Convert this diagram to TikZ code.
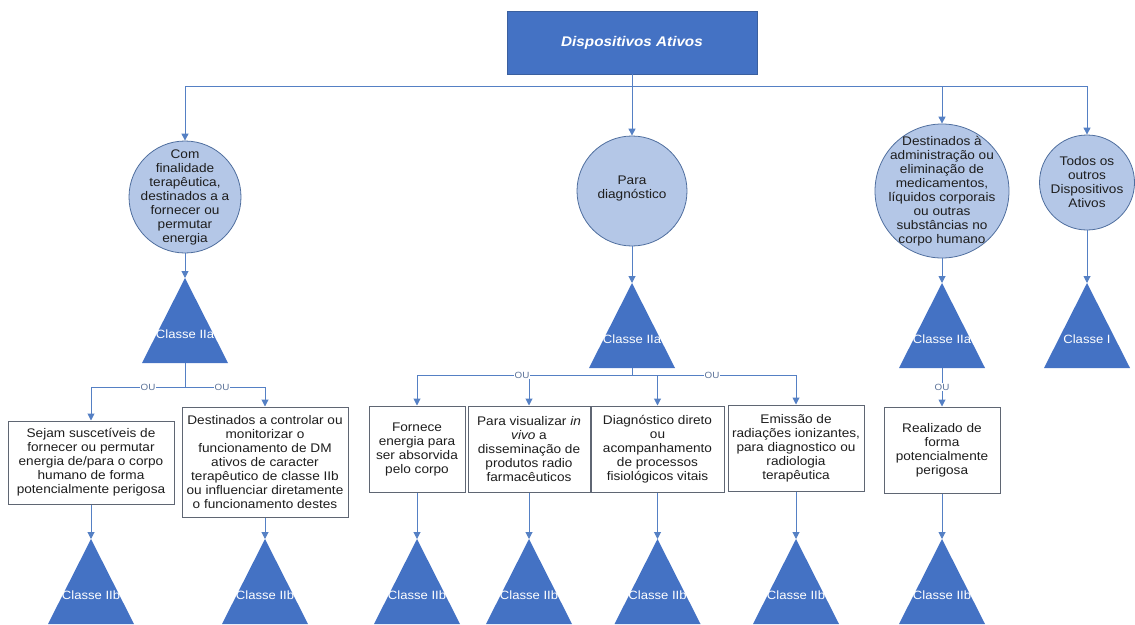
\documentclass[tikz,border=0pt]{standalone}
\usepackage{fontspec}
\setmainfont[FakeStretch=1.09]{Liberation Sans}
\usetikzlibrary{arrows.meta}
\definecolor{dblue}{HTML}{4472C4}
\definecolor{dborder}{HTML}{3A5F9E}
\definecolor{cfill}{HTML}{B4C7E7}
\definecolor{cborder}{HTML}{4F6E9E}
\definecolor{lcol}{HTML}{5580C4}
\definecolor{bborder}{HTML}{5F6673}
\definecolor{txt}{HTML}{1E1E1E}
\definecolor{oucol}{HTML}{5C7399}
\newcommand\mytri[4]{%
  \coordinate (#1) at (#2,#3);
  \coordinate (#1b) at (#2,#3+85);
  \fill[dblue] (#1) -- ++(43,85) -- ++(-86,0) -- cycle;
  \node[trilabel] (#1l) at (#2,#3+56) {#4};
}
\tikzset{
  basefont/.style={font=\fontsize{12.5}{14}\selectfont, text=txt, align=center},
  topbox/.style={draw=dborder, line width=0.8pt, fill=dblue, minimum width=250pt, minimum height=63pt,
    font=\fontsize{14}{16}\selectfont\bfseries\itshape, text=white},
  circ/.style={circle, draw=cborder, line width=0.8pt, fill=cfill, inner sep=0pt},
  ctext/.style={basefont, inner sep=0pt},
  box/.style={basefont, draw=bborder, line width=1pt, fill=white, inner sep=2pt},
  trilabel/.style={font=\fontsize{12}{14}\selectfont, text=white},
  ou/.style={font=\fontsize{9}{10}\selectfont, text=oucol, fill=white, inner sep=1pt},
  conn/.style={draw=lcol, line width=1pt},
  arr/.style={conn, -{Triangle[length=7pt,width=7pt]}},
}
\begin{document}
\begin{tikzpicture}[x=1pt,y=-1pt]
\useasboundingbox (0,0) rectangle (1135,624);

% top
\node[topbox] (top) at (632,42.5) {Dispositivos Ativos};

% circles
\node[circ, minimum size=112pt] (c1) at (185,197) {};
\node[ctext] (c1t) at (c1) {Com\\finalidade\\terapêutica,\\destinados a a\\fornecer ou\\permutar\\energia};
\node[circ, minimum size=110pt] (c2) at (632,191) {};
\node[ctext] (c2t) at (632,188) {Para\\diagnóstico};
\node[circ, minimum size=134pt] (c3) at (942,191) {};
\node[ctext] (c3t) at (c3) {Destinados à\\administração ou\\eliminação de\\medicamentos,\\líquidos corporais\\ou outras\\substâncias no\\corpo humano};
\node[circ, minimum size=95pt] (c4) at (1087,182.5) {};
\node[ctext] (c4t) at (c4) {Todos os\\outros\\Dispositivos\\Ativos};

% bus top
\coordinate (bus) at (632,86);
\draw[conn] (bus -| c1) -- (bus -| c4);
\draw[arr] (top.south) -- (c2.north);
\draw[arr] (bus -| c1) -- (c1.north);
\draw[arr] (bus -| c3) -- (c3.north);
\draw[arr] (bus -| c4) -- (c4.north);

% class triangles row 1
\mytri{t1}{185}{278}{Classe IIa}
\mytri{t2}{632}{283}{Classe IIa}
\mytri{t3}{942}{283}{Classe IIa}
\mytri{t4}{1087}{283}{Classe I}

\draw[arr] (c1.south) -- (t1);
\draw[arr] (c2.south) -- (t2);
\draw[arr] (c3.south) -- (t3);
\draw[arr] (c4.south) -- (t4);

% boxes
\node[box, minimum width=166pt, minimum height=83pt] (b1) at (91,462.5) {Sejam suscetíveis de\\fornecer ou permutar\\energia de/para o corpo\\humano de forma\\potencialmente perigosa};
\node[box, minimum width=166pt, minimum height=110pt] (b2) at (265,462) {Destinados a controlar ou\\monitorizar o\\funcionamento de DM\\ativos de caracter\\terapêutico de classe IIb\\ou influenciar diretamente\\o funcionamento destes};
\node[box, minimum width=96pt, minimum height=86pt] (bA) at (417,449) {Fornece\\energia para\\ser absorvida\\pelo corpo};
\node[box, minimum width=122pt, minimum height=86pt] (bB) at (529,449) {Para visualizar \textit{in}\\\textit{vivo} a\\disseminação de\\produtos radio\\farmacêuticos};
\node[box, minimum width=133pt, minimum height=86pt] (bC) at (657.5,449) {Diagnóstico direto\\ou\\acompanhamento\\de processos\\fisiológicos vitais};
\node[box, minimum width=136pt, minimum height=86pt] (bD) at (796,448) {Emissão de\\radiações ionizantes,\\para diagnostico ou\\radiologia\\terapêutica};
\node[box, minimum width=116pt, minimum height=86pt] (bE) at (942,450) {Realizado de\\forma\\potencialmente\\perigosa};

% left branch
\coordinate (lb) at (185,387);
\draw[conn] (t1b) -- (lb);
\draw[conn] (lb -| b1) -- (lb -| b2);
\draw[arr] (lb -| b1) -- (b1.north);
\draw[arr] (lb -| b2) -- (b2.north);
\node[ou] (ou1) at (148,387) {OU};
\node[ou] (ou2) at (222,387) {OU};

% middle branch
\coordinate (mb) at (632,375);
\draw[conn] (t2b) -- (mb);
\draw[conn] (mb -| bA) -- (mb -| bD);
\draw[arr] (mb -| bA) -- (bA.north);
\draw[arr] (mb -| bB) -- (bB.north);
\draw[arr] (mb -| bC) -- (bC.north);
\draw[arr] (mb -| bD) -- (bD.north);
\node[ou] (ou3) at (522,375) {OU};
\node[ou] (ou4) at (712,375) {OU};

% right branch
\draw[arr] (t3b) -- (bE.north);
\node[ou] (ou5) at (942,387) {OU};

% bottom triangles
\mytri{u1}{91}{539}{Classe IIb}
\mytri{u2}{265}{539}{Classe IIb}
\mytri{u3}{417}{539}{Classe IIb}
\mytri{u4}{529}{539}{Classe IIb}
\mytri{u5}{657.5}{539}{Classe IIb}
\mytri{u6}{796}{539}{Classe IIb}
\mytri{u7}{942}{539}{Classe IIb}

\draw[arr] (b1.south) -- (u1);
\draw[arr] (b2.south) -- (u2);
\draw[arr] (bA.south) -- (u3);
\draw[arr] (bB.south) -- (u4);
\draw[arr] (bC.south) -- (u5);
\draw[arr] (bD.south) -- (u6);
\draw[arr] (bE.south) -- (u7);
\end{tikzpicture}
\end{document}
